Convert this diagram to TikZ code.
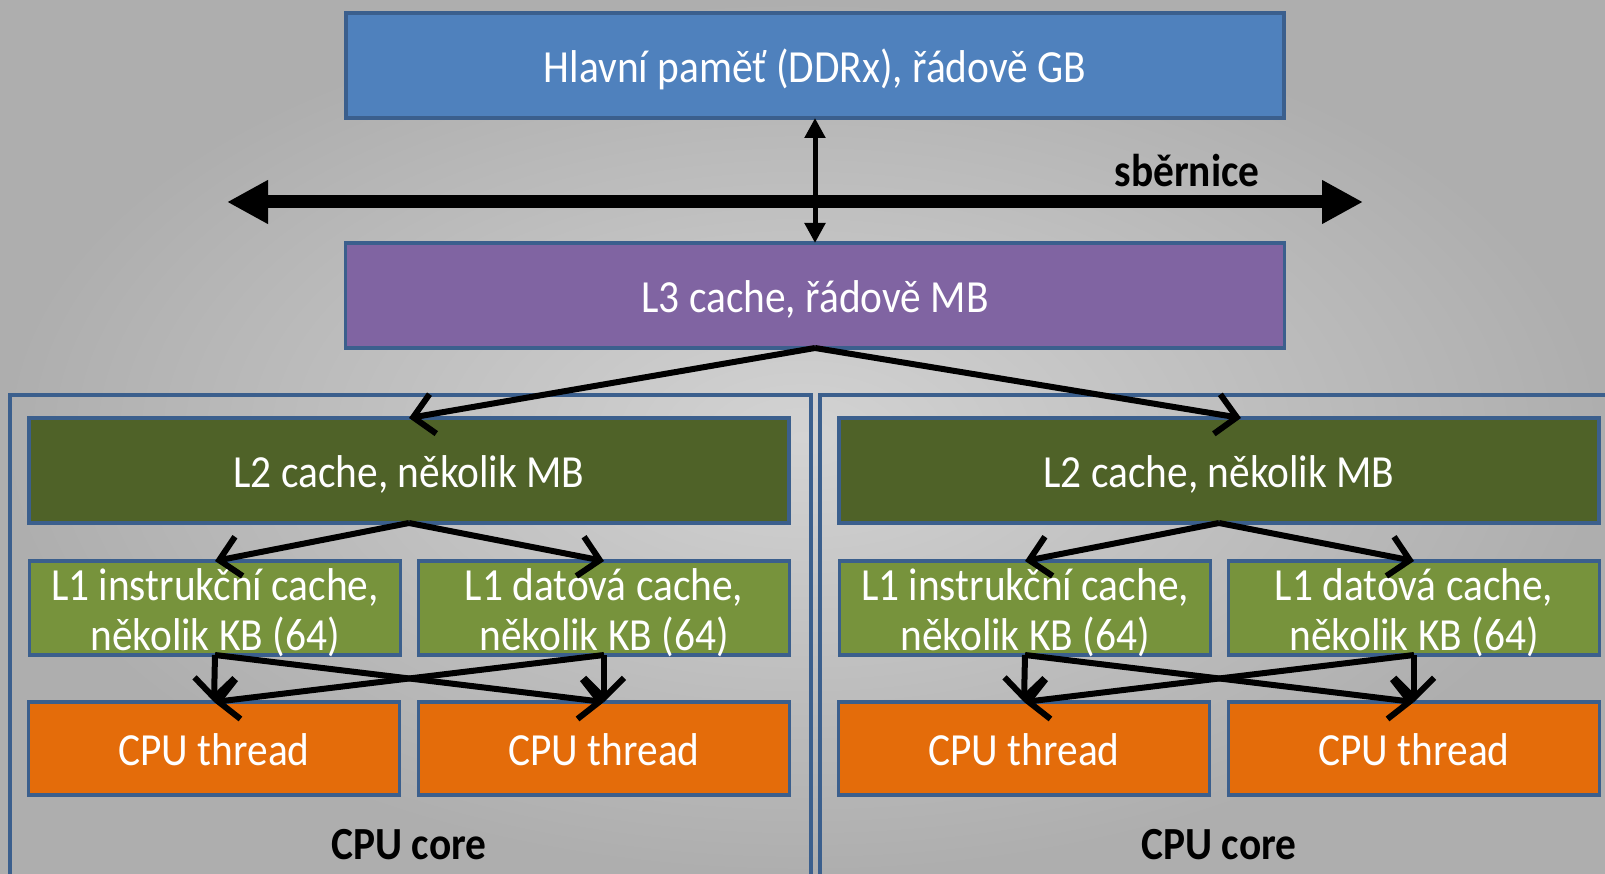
\documentclass[tikz,border=0pt]{standalone}
\usepackage{fontspec}
\setmainfont{Carlito}[FakeStretch=0.9]
\usetikzlibrary{positioning,arrows.meta,calc}
\definecolor{bgin}{HTML}{D3D3D3}
\definecolor{bgout}{HTML}{AEAEAE}
\definecolor{boxline}{HTML}{3B5F8D}
\definecolor{memblue}{HTML}{4F81BD}
\definecolor{l3violet}{HTML}{8064A2}
\definecolor{l2green}{HTML}{4F6228}
\definecolor{l1green}{HTML}{77933C}
\definecolor{cpuorange}{HTML}{E46C0A}

\begin{document}
\begin{tikzpicture}[x=1pt,y=-1pt,every node/.style={outer sep=0pt,inner sep=0pt},
        font=\fontsize{46}{50}\selectfont,
        box/.style={draw=boxline,line width=3.5pt,text=white,align=center},
        oneline/.style={text height=34pt,text depth=0pt},
        membox/.style={box,oneline,fill=memblue,minimum width=938pt,minimum height=105pt},
        l3box/.style={box,oneline,fill=l3violet,minimum width=939pt,minimum height=105pt},
        l2box/.style={box,oneline,fill=l2green,minimum width=760pt,minimum height=105pt},
        l1box/.style={box,text height=89pt,text depth=5pt,fill=l1green,minimum width=371pt,minimum height=94pt},
        cpubox/.style={box,oneline,fill=cpuorange,minimum width=371pt,minimum height=93pt},
        corebox/.style={draw=boxline,line width=3.5pt,anchor=north west,minimum width=801pt,minimum height=500pt},
        caption/.style={font=\fontsize{46}{50}\selectfont\bfseries},
        link/.style={line width=6pt,-{Straight Barb[length=20pt,width=40pt]}},
        bus/.style={line width=13pt,{Triangle[length=41pt,width=41pt]}-{Triangle[length=41pt,width=41pt]}},
        port/.style={line width=5pt,{Triangle[length=20pt,width=20pt]}-{Triangle[length=20pt,width=20pt]}}]

        % Background
        \clip (0,0) rectangle (1605,874);
        \fill[inner color=bgin,outer color=bgout] (0,0) rectangle (1605,874);

        % Memory and L3
        \node[membox] (mem) at (815,65.5) {Hlavní paměť (DDRx), řádově GB};
        \node[l3box,below=125pt of mem] (l3) {L3 cache, řádově MB};

        % Bus
        \coordinate (busL) at (227,202);
        \coordinate (busR) at (1363,202);
        \draw[bus] (busL) -- (busR);
        \node[caption] (busname) at (1187,171) {sběrnice};
        \draw[port] (mem.south) -- (mem.south|-l3.north);

        % Cores
        \foreach \s/\dx in {L/0,R/810}{
          \node[corebox] (core\s) at (10+\dx,395) {};
          \node[l2box] (l2\s) at (409+\dx,470.5) {L2 cache, několik MB};
          \node[l1box] (l1\s i) at (215+\dx,608) {L1 instrukční cache,\\několik KB (64)};
          \node[l1box] (l1\s d) at (604+\dx,608) {L1 datová cache,\\několik KB (64)};
          \node[cpubox] (cpu\s a) at (214+\dx,748.5) {CPU thread};
          \node[cpubox] (cpu\s b) at (604+\dx,748.5) {CPU thread};
          \node[caption] (name\s) at (409+\dx,845) {CPU core};
          \draw[link] (l2\s.south) -- (l1\s i.north);
          \draw[link] (l2\s.south) -- (l1\s d.north);
          \draw[link] (l1\s i.south) -- (cpu\s a.north);
          \draw[link] (l1\s i.south) -- (cpu\s b.north);
          \draw[link] (l1\s d.south) -- (cpu\s b.north);
          \draw[link] (l1\s d.south) -- (cpu\s a.north);
        }

        \draw[link] (l3.south) -- (l2L.north);
        \draw[link] (l3.south) -- ([xshift=22pt]l2R.north);

\end{tikzpicture}
\end{document}
